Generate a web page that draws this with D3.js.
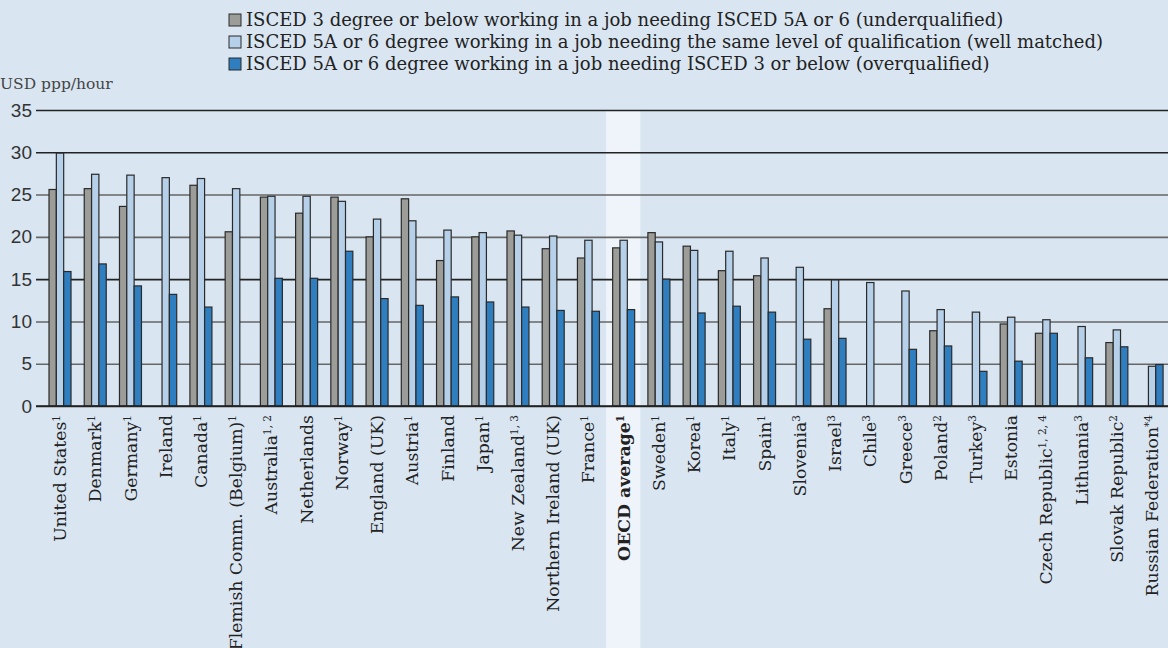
<!DOCTYPE html>
<meta charset="utf-8">
<script src="https://d3js.org/d3.v7.min.js"></script>
<style>
  body { margin: 0; }
  svg { display: block; }
</style>
<div id="chart"></div>
<script>

// countries, in chart order, with their footnote marks
var countries = ["United States", "Denmark", "Germany", "Ireland", "Canada", "Flemish Comm. (Belgium)",
  "Australia", "Netherlands", "Norway", "England (UK)", "Austria", "Finland", "Japan", "New Zealand",
  "Northern Ireland (UK)", "France", "OECD average", "Sweden", "Korea", "Italy", "Spain", "Slovenia",
  "Israel", "Chile", "Greece", "Poland", "Turkey", "Estonia", "Czech Republic", "Lithuania",
  "Slovak Republic", "Russian Federation"];
var notes = ["1", "1", "1", "", "1", "1", "1, 2", "", "1", "", "1", "", "1", "1, 3", "", "1", "1",
  "1", "1", "1", "1", "3", "3", "3", "3", "2", "3", "", "1, 2, 4", "3", "2", "*4"];

// USD ppp/hour
var underqualified = [25.6, 25.7, 23.6, null, 26.1, 20.6, 24.7, 22.8, 24.7, 20.0, 24.5, 17.2, 20.0, 20.7,
  18.6, 17.5, 18.7, 20.5, 18.9, 16.0, 15.4, null, 11.5, null, null, 8.9, null, 9.7, 8.6, null, 7.5, null];
var wellMatched = [29.9, 27.4, 27.3, 27.0, 26.9, 25.7, 24.8, 24.8, 24.2, 22.1, 21.9, 20.8, 20.5, 20.2,
  20.1, 19.6, 19.6, 19.4, 18.4, 18.3, 17.5, 16.4, 14.9, 14.6, 13.6, 11.4, 11.1, 10.5, 10.2, 9.4, 9.0, 4.7];
var overqualified = [15.9, 16.8, 14.2, 13.2, 11.7, null, 15.1, 15.1, 18.3, 12.7, 11.9, 12.9, 12.3, 11.7,
  11.3, 11.2, 11.4, 15.0, 11.0, 11.8, 11.1, 7.9, 8.0, null, 6.7, 7.1, 4.1, 5.3, 8.6, 5.7, 7.0, 4.9];

var seriesNames = [
  "ISCED 3 degree or below working in a job needing ISCED 5A or 6 (underqualified)",
  "ISCED 5A or 6 degree working in a job needing the same level of qualification (well matched)",
  "ISCED 5A or 6 degree working in a job needing ISCED 3 or below (overqualified)"
];
var yTicks = [0, 5, 10, 15, 20, 25, 30, 35];

var width = 1168, height = 648;
var colors = ["#9c9c99", "#b5d0e8", "#2f7ebf"];
var serif = "'DejaVu Serif', 'Liberation Serif', serif";

var svg = d3.select("#chart").append("svg")
  .attr("width", width)
  .attr("height", height);

svg.append("rect").attr("width", width).attr("height", height).attr("fill", "#d9e6f2");

var y = d3.scaleLinear().domain([0, 35]).range([406, 110]);
var x = d3.scaleBand().domain(countries).range([42.4, 1169.7])
  .paddingInner(0.3755).paddingOuter(0.1877);
var keys = [0, 1, 2];
var xs = d3.scaleBand().domain(keys).range([0, x.bandwidth()]);

// highlight behind OECD average
svg.append("rect")
  .attr("x", x("OECD average") + x.bandwidth() / 2 - x.step() / 2)
  .attr("y", y(35))
  .attr("width", x.step() - 1)
  .attr("height", height - y(35))
  .attr("fill", "#eef4fa");

// gridlines + y axis
var axisX = 36;
var yAxis = svg.append("g")
  .attr("transform", "translate(" + axisX + ",0)")
  .call(d3.axisLeft(y).tickValues(yTicks).tickSize(-(width - axisX)).tickPadding(4));
yAxis.select(".domain").remove();
yAxis.selectAll("line")
  .attr("stroke", function(d) { return (d == 35 || d == 30 || d == 15 || d == 0) ? "#222" : "#666"; })
  .attr("stroke-width", 1.6);
yAxis.selectAll("text")
  .attr("font-family", "'Liberation Sans', Arial, sans-serif")
  .attr("font-size", 19)
  .attr("fill", "#333");

svg.append("text")
  .attr("x", 0).attr("y", 89)
  .attr("font-family", serif).attr("font-size", 15.5).attr("fill", "#444")
  .text("USD ppp/hour");

// bars
var series = [underqualified, wellMatched, overqualified];
var rows = [];
countries.forEach(function(c, i) {
  keys.forEach(function(k) {
    if (series[k][i] != null) rows.push({ country: c, k: k, v: series[k][i] });
  });
});

svg.append("g").selectAll("rect")
  .data(rows)
  .enter().append("rect")
  .attr("x", function(d) { return x(d.country) + xs(d.k); })
  .attr("y", function(d) { return y(d.v); })
  .attr("width", xs.bandwidth())
  .attr("height", function(d) { return y(0) - y(d.v); })
  .attr("fill", function(d) { return colors[d.k]; })
  .attr("stroke", "#2a2a2a")
  .attr("stroke-width", 1.2);

// zero line on top
svg.append("line")
  .attr("x1", axisX).attr("x2", width)
  .attr("y1", y(0)).attr("y2", y(0))
  .attr("stroke", "#222").attr("stroke-width", 1.6);

// x labels
var labels = svg.append("g").selectAll("text")
  .data(countries)
  .enter().append("text")
  .attr("transform", function(d) {
    return "translate(" + (x(d) + x.bandwidth() / 2) + ",415) rotate(-90)";
  })
  .attr("dy", "0.35em")
  .attr("text-anchor", "end")
  .attr("font-family", serif)
  .attr("font-size", 17.3)
  .attr("fill", "#222")
  .attr("font-weight", function(d) { return d == "OECD average" ? "bold" : null; });
labels.append("tspan").text(function(d) { return d; });
labels.append("tspan")
  .attr("baseline-shift", "super")
  .attr("font-size", 10.5)
  .text(function(d, i) { return notes[i]; });

// legend
var legend = svg.append("g").selectAll("g")
  .data(seriesNames)
  .enter().append("g")
  .attr("transform", function(d, i) { return "translate(229," + (20 + i * 22) + ")"; });
legend.append("rect")
  .attr("x", 0).attr("y", -6)
  .attr("width", 12).attr("height", 12)
  .attr("fill", function(d, i) { return colors[i]; })
  .attr("stroke", "#2a2a2a");
legend.append("text")
  .attr("x", 17).attr("dy", "0.35em")
  .attr("font-family", serif).attr("font-size", 18).attr("fill", "#222")
  .text(function(d) { return d; });

</script>
